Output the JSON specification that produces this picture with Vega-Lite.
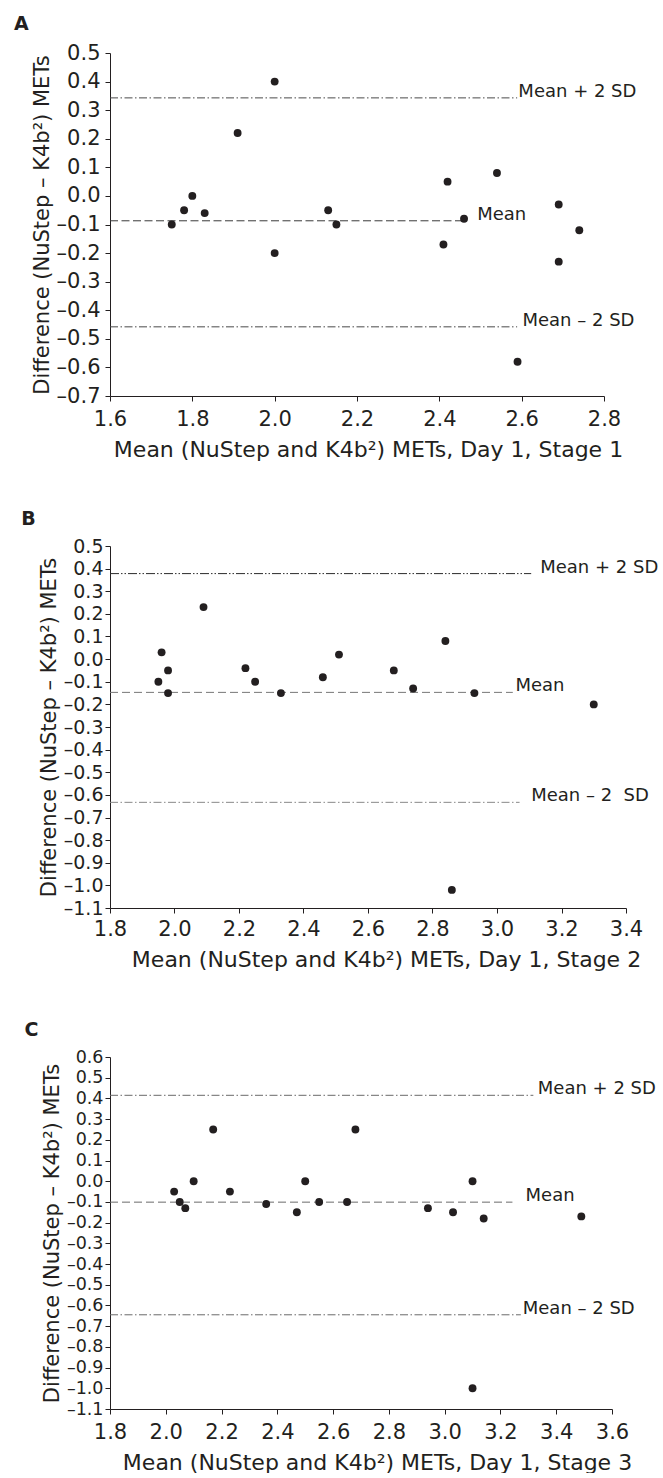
{
  "$schema": "https://vega.github.io/schema/vega-lite/v6.json",
  "padding": {"left": 14, "top": 15, "right": 0, "bottom": 0},
  "spacing": 50,
  "resolve": {"scale": {"color": "independent", "strokeDash": "independent"}},
  "config": {
    "locale": {"number": {"decimal": ".", "thousands": ",", "grouping": [3], "currency": ["$", ""], "minus": "–"}},
    "view": {"stroke": null},
    "font": "DejaVu Sans",
    "title": {"anchor": "start", "frame": "bounds", "fontSize": 19, "fontWeight": "bold", "font": "DejaVu Sans", "color": "#231f20", "offset": 8, "dx": -17},
    "axis": {
      "grid": false, "domainColor": "#231f20", "tickColor": "#231f20", "tickSize": 5, "domainWidth": 1, "tickWidth": 1,
      "labelFont": "DejaVu Sans", "labelFontSize": 21, "labelColor": "#231f20",
      "titleFont": "DejaVu Sans", "titleFontWeight": "normal", "titleColor": "#231f20",
      "labelOverlap": false, "labelFlush": false
    },
    "axisX": {"titleFontSize": 22, "labelPadding": 7, "titlePadding": 10},
    "axisY": {"titleFontSize": 21, "labelPadding": 5, "titlePadding": 4}
  },
  "vconcat": [
    {
      "title": {"text": "A"},
      "width": 494, "height": 343,
      "layer": [
        {
          "data": {"values": [
            {"line": "upper", "y": 0.343, "xStart": 1.6, "xEnd": 2.589, "label": "Mean + 2 SD"},
            {"line": "mean", "y": -0.087, "xStart": 1.6, "xEnd": 2.459, "label": "Mean"},
            {"line": "lower", "y": -0.458, "xStart": 1.6, "xEnd": 2.589, "label": "Mean – 2 SD"}
          ]},
          "mark": {"type": "rule", "strokeWidth": 1},
          "encoding": {
            "x": {"field": "xStart", "type": "quantitative", "scale": {"domain": [1.6, 2.8], "nice": false, "zero": false},
                  "axis": {"title": "Mean (NuStep and K4b²) METs, Day 1, Stage 1", "values": [1.6, 1.8, 2.0, 2.2, 2.4, 2.6, 2.8], "tickCount": 40, "format": ".1f", "titleX": 258, "labelOverlap": false, "labelFlush": false}},
            "x2": {"field": "xEnd"},
            "y": {"field": "y", "type": "quantitative", "scale": {"domain": [-0.7, 0.5], "nice": false, "zero": false},
                  "axis": {"title": "Difference (NuStep – K4b²) METs", "values": [-0.7, -0.6, -0.5, -0.4, -0.3, -0.2, -0.1, 0, 0.1, 0.2, 0.3, 0.4, 0.5], "tickCount": 40, "format": ".1f", "labelOverlap": false, "labelFlush": false}},
            "strokeDash": {"field": "line", "type": "nominal", "legend": null, "scale": {"domain": ["upper", "mean", "lower"], "range": [[8, 2.5, 1.5, 2.5], [8, 3.5], [8, 2.5, 1.5, 2.5]]}},
            "color": {"field": "line", "type": "nominal", "legend": null, "scale": {"domain": ["upper", "mean", "lower"], "range": ["#4a4a4a", "#3a3a3a", "#4a4a4a"]}}
          }
        },
        {
          "data": {"values": [
            {"line": "upper", "y": 0.343, "labelX": 2.592, "label": "Mean + 2 SD"},
            {"line": "mean", "y": -0.087, "labelX": 2.492, "label": "Mean"},
            {"line": "lower", "y": -0.458, "labelX": 2.602, "label": "Mean – 2 SD"}
          ]},
          "mark": {"type": "text", "align": "left", "baseline": "middle", "dy": -6, "fontSize": 18, "font": "DejaVu Sans", "color": "#231f20"},
          "encoding": {
            "x": {"field": "labelX", "type": "quantitative", "title": "Mean (NuStep and K4b²) METs, Day 1, Stage 1"},
            "y": {"field": "y", "type": "quantitative", "title": "Difference (NuStep – K4b²) METs"},
            "text": {"field": "label"}
          }
        },
        {
          "data": {"values": [
            {"mean": 1.75, "diff": -0.10}, {"mean": 1.78, "diff": -0.05}, {"mean": 1.80, "diff": 0.00},
            {"mean": 1.83, "diff": -0.06}, {"mean": 1.91, "diff": 0.22}, {"mean": 2.00, "diff": 0.40},
            {"mean": 2.00, "diff": -0.20}, {"mean": 2.13, "diff": -0.05}, {"mean": 2.15, "diff": -0.10},
            {"mean": 2.41, "diff": -0.17}, {"mean": 2.42, "diff": 0.05}, {"mean": 2.46, "diff": -0.08},
            {"mean": 2.54, "diff": 0.08}, {"mean": 2.59, "diff": -0.58}, {"mean": 2.69, "diff": -0.03},
            {"mean": 2.69, "diff": -0.23}, {"mean": 2.74, "diff": -0.12}
          ]},
          "mark": {"type": "circle", "size": 62, "color": "#231f20", "opacity": 1},
          "encoding": {
            "x": {"field": "mean", "type": "quantitative", "title": "Mean (NuStep and K4b²) METs, Day 1, Stage 1"},
            "y": {"field": "diff", "type": "quantitative", "title": "Difference (NuStep – K4b²) METs"}
          }
        }
      ]
    },
    {
      "title": {"text": "B"},
      "width": 516, "height": 362,
      "layer": [
        {
          "data": {"values": [
            {"line": "upper", "y": 0.378, "xStart": 1.8, "xEnd": 3.106, "label": "Mean + 2 SD"},
            {"line": "mean", "y": -0.147, "xStart": 1.8, "xEnd": 3.049, "label": "Mean"},
            {"line": "lower", "y": -0.633, "xStart": 1.8, "xEnd": 3.07, "label": "Mean – 2  SD"}
          ]},
          "mark": {"type": "rule", "strokeWidth": 1},
          "encoding": {
            "x": {"field": "xStart", "type": "quantitative", "scale": {"domain": [1.8, 3.4], "nice": false, "zero": false},
                  "axis": {"title": "Mean (NuStep and K4b²) METs, Day 1, Stage 2", "values": [1.8, 2.0, 2.2, 2.4, 2.6, 2.8, 3.0, 3.2, 3.4], "tickCount": 40, "format": ".1f", "titleX": 276, "labelPadding": 5.5, "labelOverlap": false, "labelFlush": false}},
            "x2": {"field": "xEnd"},
            "y": {"field": "y", "type": "quantitative", "scale": {"domain": [-1.1, 0.5], "nice": false, "zero": false},
                  "axis": {"title": "Difference (NuStep – K4b²) METs", "values": [-1.1, -1.0, -0.9, -0.8, -0.7, -0.6, -0.5, -0.4, -0.3, -0.2, -0.1, 0, 0.1, 0.2, 0.3, 0.4, 0.5], "tickCount": 40, "format": ".1f", "labelPadding": 2, "labelFontSize": 19, "labelOverlap": false, "labelFlush": false}},
            "strokeDash": {"field": "line", "type": "nominal", "legend": null, "scale": {"domain": ["upper", "mean", "lower"], "range": [[9, 2, 1.5, 2, 1.5, 2], [8, 4], [8, 2.5, 1.5, 2.5]]}},
            "color": {"field": "line", "type": "nominal", "legend": null, "scale": {"domain": ["upper", "mean", "lower"], "range": ["#2a2a2a", "#777777", "#888888"]}}
          }
        },
        {
          "data": {"values": [
            {"line": "upper", "y": 0.378, "labelX": 3.134, "label": "Mean + 2 SD"},
            {"line": "mean", "y": -0.147, "labelX": 3.057, "label": "Mean"},
            {"line": "lower", "y": -0.633, "labelX": 3.106, "label": "Mean – 2\u00a0 SD"}
          ]},
          "mark": {"type": "text", "align": "left", "baseline": "middle", "dy": -6, "fontSize": 18, "font": "DejaVu Sans", "color": "#231f20"},
          "encoding": {
            "x": {"field": "labelX", "type": "quantitative", "title": "Mean (NuStep and K4b²) METs, Day 1, Stage 2"},
            "y": {"field": "y", "type": "quantitative", "title": "Difference (NuStep – K4b²) METs"},
            "text": {"field": "label"}
          }
        },
        {
          "data": {"values": [
            {"mean": 1.95, "diff": -0.10}, {"mean": 1.96, "diff": 0.03}, {"mean": 1.98, "diff": -0.05},
            {"mean": 1.98, "diff": -0.15}, {"mean": 2.09, "diff": 0.23}, {"mean": 2.22, "diff": -0.04},
            {"mean": 2.25, "diff": -0.10}, {"mean": 2.33, "diff": -0.15}, {"mean": 2.46, "diff": -0.08},
            {"mean": 2.51, "diff": 0.02}, {"mean": 2.68, "diff": -0.05}, {"mean": 2.74, "diff": -0.13},
            {"mean": 2.84, "diff": 0.08}, {"mean": 2.86, "diff": -1.02}, {"mean": 2.93, "diff": -0.15},
            {"mean": 3.30, "diff": -0.20}
          ]},
          "mark": {"type": "circle", "size": 62, "color": "#231f20", "opacity": 1},
          "encoding": {
            "x": {"field": "mean", "type": "quantitative", "title": "Mean (NuStep and K4b²) METs, Day 1, Stage 2"},
            "y": {"field": "diff", "type": "quantitative", "title": "Difference (NuStep – K4b²) METs"}
          }
        }
      ]
    },
    {
      "title": {"text": "C"},
      "width": 502, "height": 352,
      "layer": [
        {
          "data": {"values": [
            {"line": "upper", "y": 0.415, "xStart": 1.8, "xEnd": 3.318, "label": "Mean + 2 SD"},
            {"line": "mean", "y": -0.101, "xStart": 1.8, "xEnd": 3.243, "label": "Mean"},
            {"line": "lower", "y": -0.645, "xStart": 1.8, "xEnd": 3.273, "label": "Mean – 2 SD"}
          ]},
          "mark": {"type": "rule", "strokeWidth": 1},
          "encoding": {
            "x": {"field": "xStart", "type": "quantitative", "scale": {"domain": [1.8, 3.6], "nice": false, "zero": false},
                  "axis": {"title": "Mean (NuStep and K4b²) METs, Day 1, Stage 3", "values": [1.8, 2.0, 2.2, 2.4, 2.6, 2.8, 3.0, 3.2, 3.4, 3.6], "tickCount": 40, "format": ".1f", "titleX": 267, "labelOverlap": false, "labelFlush": false}},
            "x2": {"field": "xEnd"},
            "y": {"field": "y", "type": "quantitative", "scale": {"domain": [-1.1, 0.6], "nice": false, "zero": false},
                  "axis": {"title": "Difference (NuStep – K4b²) METs", "values": [-1.1, -1.0, -0.9, -0.8, -0.7, -0.6, -0.5, -0.4, -0.3, -0.2, -0.1, 0, 0.1, 0.2, 0.3, 0.4, 0.5, 0.6], "tickCount": 40, "format": ".1f", "labelPadding": 2, "labelFontSize": 17.5, "labelOverlap": false, "labelFlush": false}},
            "strokeDash": {"field": "line", "type": "nominal", "legend": null, "scale": {"domain": ["upper", "mean", "lower"], "range": [[8, 2.5, 1.5, 2.5], [8, 4], [8, 2.5, 1.5, 2.5]]}},
            "color": {"field": "line", "type": "nominal", "legend": null, "scale": {"domain": ["upper", "mean", "lower"], "range": ["#6a6a6a", "#6a6a6a", "#6a6a6a"]}}
          }
        },
        {
          "data": {"values": [
            {"line": "upper", "y": 0.415, "labelX": 3.334, "label": "Mean + 2 SD"},
            {"line": "mean", "y": -0.101, "labelX": 3.29, "label": "Mean"},
            {"line": "lower", "y": -0.645, "labelX": 3.28, "label": "Mean – 2 SD"}
          ]},
          "mark": {"type": "text", "align": "left", "baseline": "middle", "dy": -6, "fontSize": 18, "font": "DejaVu Sans", "color": "#231f20"},
          "encoding": {
            "x": {"field": "labelX", "type": "quantitative", "title": "Mean (NuStep and K4b²) METs, Day 1, Stage 3"},
            "y": {"field": "y", "type": "quantitative", "title": "Difference (NuStep – K4b²) METs"},
            "text": {"field": "label"}
          }
        },
        {
          "data": {"values": [
            {"mean": 2.03, "diff": -0.05}, {"mean": 2.05, "diff": -0.10}, {"mean": 2.07, "diff": -0.13},
            {"mean": 2.10, "diff": 0.00}, {"mean": 2.17, "diff": 0.25}, {"mean": 2.23, "diff": -0.05},
            {"mean": 2.36, "diff": -0.11}, {"mean": 2.47, "diff": -0.15}, {"mean": 2.50, "diff": 0.00},
            {"mean": 2.55, "diff": -0.10}, {"mean": 2.65, "diff": -0.10}, {"mean": 2.68, "diff": 0.25},
            {"mean": 2.94, "diff": -0.13}, {"mean": 3.03, "diff": -0.15}, {"mean": 3.10, "diff": 0.00},
            {"mean": 3.10, "diff": -1.00}, {"mean": 3.14, "diff": -0.18}, {"mean": 3.49, "diff": -0.17}
          ]},
          "mark": {"type": "circle", "size": 62, "color": "#231f20", "opacity": 1},
          "encoding": {
            "x": {"field": "mean", "type": "quantitative", "title": "Mean (NuStep and K4b²) METs, Day 1, Stage 3"},
            "y": {"field": "diff", "type": "quantitative", "title": "Difference (NuStep – K4b²) METs"}
          }
        }
      ]
    }
  ]
}
